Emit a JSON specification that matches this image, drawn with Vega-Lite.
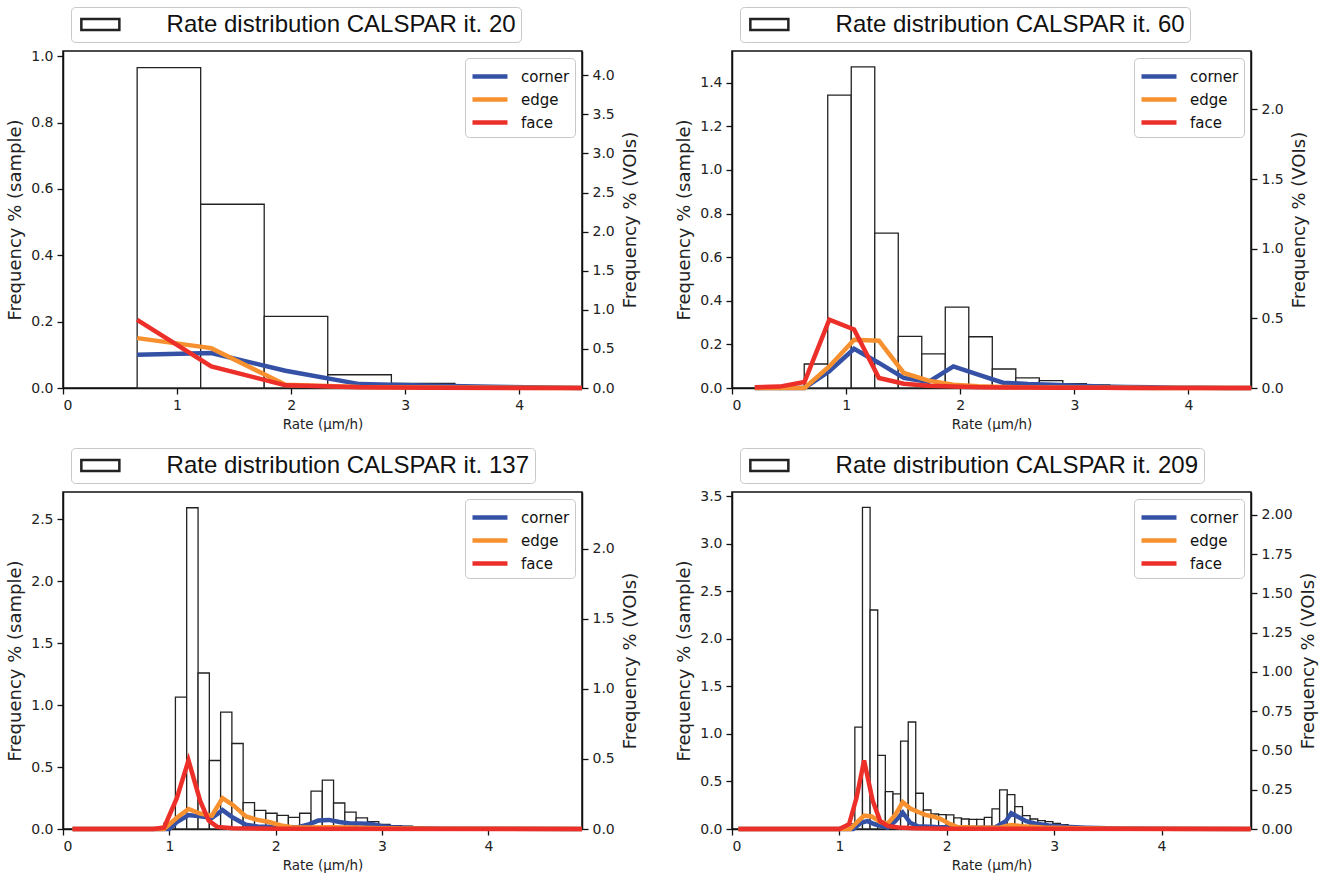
{
"$schema": "https://vega.github.io/schema/vega-lite/v6.json",
"background": "white",
"padding": {"left": 5, "top": 5, "right": 2, "bottom": 5},
"config": {
 "font": "DejaVu Sans",
 "view": {"stroke": "#111", "strokeWidth": 1.5},
 "axis": {"domainColor": "#111", "domainWidth": 1.5, "tickColor": "#111", "tickWidth": 1.3, "tickSize": 6, "labelFontSize": 14, "labelColor": "#222", "labelFont": "DejaVu Sans", "titleFont": "DejaVu Sans", "titleFontSize": 14, "titleFontWeight": "normal", "titleColor": "#222", "grid": false, "labelPadding": 4},
 "axisX": {"titlePadding": 5, "titleFontSize": 13.5},
 "axisY": {"titlePadding": 6, "titleFontSize": 18},
 "legend": {"title": null, "strokeColor": "#c8c8c8", "fillColor": "white", "cornerRadius": 4}
},
"datasets": {
 "h1": [{"x0":0.65,"x1":1.207,"f":0.966},{"x0":1.207,"x1":1.764,"f":0.554},{"x0":1.764,"x1":2.321,"f":0.216},{"x0":2.321,"x1":2.879,"f":0.040},{"x0":2.879,"x1":3.436,"f":0.014},{"x0":3.436,"x1":3.993,"f":0.003},{"x0":3.993,"x1":4.55,"f":0.001}],
 "l1": [
  {"t":"corner","x":0.65,"v":0.426},{"t":"corner","x":1.3,"v":0.447},{"t":"corner","x":1.95,"v":0.22},{"t":"corner","x":2.6,"v":0.05},{"t":"corner","x":3.25,"v":0.03},{"t":"corner","x":3.9,"v":0.012},{"t":"corner","x":4.55,"v":0.0},
  {"t":"edge","x":0.65,"v":0.638},{"t":"edge","x":1.3,"v":0.51},{"t":"edge","x":1.95,"v":0.04},{"t":"edge","x":2.6,"v":0.012},{"t":"edge","x":3.25,"v":0.005},{"t":"edge","x":3.9,"v":0.002},{"t":"edge","x":4.55,"v":0.0},
  {"t":"face","x":0.65,"v":0.872},{"t":"face","x":1.3,"v":0.277},{"t":"face","x":1.95,"v":0.034},{"t":"face","x":2.6,"v":0.01},{"t":"face","x":3.25,"v":0.004},{"t":"face","x":3.9,"v":0.001},{"t":"face","x":4.55,"v":0.0}
 ],
 "h2": [{"x0":0.633,"x1":0.839,"f":0.110},{"x0":0.839,"x1":1.045,"f":1.343},{"x0":1.045,"x1":1.251,"f":1.472},{"x0":1.251,"x1":1.457,"f":0.710},{"x0":1.457,"x1":1.663,"f":0.237},{"x0":1.663,"x1":1.869,"f":0.156},{"x0":1.869,"x1":2.075,"f":0.371},{"x0":2.075,"x1":2.281,"f":0.235},{"x0":2.281,"x1":2.487,"f":0.087},{"x0":2.487,"x1":2.693,"f":0.046},{"x0":2.693,"x1":2.899,"f":0.034},{"x0":2.899,"x1":3.105,"f":0.020},{"x0":3.105,"x1":3.311,"f":0.014},{"x0":3.311,"x1":3.517,"f":0.006},{"x0":3.517,"x1":3.723,"f":0.003},{"x0":3.723,"x1":3.929,"f":0.001},{"x0":3.929,"x1":4.135,"f":0.001},{"x0":4.135,"x1":4.341,"f":0.0005},{"x0":4.341,"x1":4.547,"f":0.0005}],
 "l2": [
  {"t":"corner","x":0.2,"v":0},{"t":"corner","x":0.4175,"v":0},{"t":"corner","x":0.635,"v":0},{"t":"corner","x":0.8525,"v":0.12},{"t":"corner","x":1.07,"v":0.282},{"t":"corner","x":1.2875,"v":0.18},{"t":"corner","x":1.505,"v":0.072},{"t":"corner","x":1.7225,"v":0.043},{"t":"corner","x":1.94,"v":0.155},{"t":"corner","x":2.1575,"v":0.096},{"t":"corner","x":2.375,"v":0.038},{"t":"corner","x":2.5925,"v":0.029},{"t":"corner","x":2.81,"v":0.024},{"t":"corner","x":3.0275,"v":0.017},{"t":"corner","x":3.245,"v":0.01},{"t":"corner","x":3.4625,"v":0.007},{"t":"corner","x":3.68,"v":0.005},{"t":"corner","x":3.8975,"v":0.002},{"t":"corner","x":4.115,"v":0.001},{"t":"corner","x":4.3325,"v":0},{"t":"corner","x":4.55,"v":0},
  {"t":"edge","x":0.2,"v":0},{"t":"edge","x":0.4175,"v":0},{"t":"edge","x":0.635,"v":0},{"t":"edge","x":0.8525,"v":0.155},{"t":"edge","x":1.07,"v":0.347},{"t":"edge","x":1.2875,"v":0.34},{"t":"edge","x":1.505,"v":0.108},{"t":"edge","x":1.7225,"v":0.053},{"t":"edge","x":1.94,"v":0.024},{"t":"edge","x":2.1575,"v":0.012},{"t":"edge","x":2.375,"v":0.007},{"t":"edge","x":2.5925,"v":0.004},{"t":"edge","x":2.81,"v":0.003},{"t":"edge","x":3.0275,"v":0.002},{"t":"edge","x":3.245,"v":0.001},{"t":"edge","x":3.4625,"v":0.001},{"t":"edge","x":3.68,"v":0},{"t":"edge","x":3.8975,"v":0},{"t":"edge","x":4.115,"v":0},{"t":"edge","x":4.3325,"v":0},{"t":"edge","x":4.55,"v":0},
  {"t":"face","x":0.2,"v":0.005},{"t":"face","x":0.4175,"v":0.01},{"t":"face","x":0.635,"v":0.043},{"t":"face","x":0.8525,"v":0.49},{"t":"face","x":1.07,"v":0.42},{"t":"face","x":1.2875,"v":0.072},{"t":"face","x":1.505,"v":0.031},{"t":"face","x":1.7225,"v":0.017},{"t":"face","x":1.94,"v":0.01},{"t":"face","x":2.1575,"v":0.006},{"t":"face","x":2.375,"v":0.004},{"t":"face","x":2.5925,"v":0.003},{"t":"face","x":2.81,"v":0.002},{"t":"face","x":3.0275,"v":0.001},{"t":"face","x":3.245,"v":0.001},{"t":"face","x":3.4625,"v":0},{"t":"face","x":3.68,"v":0},{"t":"face","x":3.8975,"v":0},{"t":"face","x":4.115,"v":0},{"t":"face","x":4.3325,"v":0},{"t":"face","x":4.55,"v":0}
 ],
 "h3": [{"x0":0.951,"x1":1.057,"f":0.049},{"x0":1.057,"x1":1.163,"f":1.065},{"x0":1.163,"x1":1.270,"f":2.593},{"x0":1.270,"x1":1.376,"f":1.259},{"x0":1.376,"x1":1.482,"f":0.553},{"x0":1.482,"x1":1.588,"f":0.943},{"x0":1.588,"x1":1.694,"f":0.69},{"x0":1.694,"x1":1.801,"f":0.213},{"x0":1.801,"x1":1.907,"f":0.151},{"x0":1.907,"x1":2.013,"f":0.127},{"x0":2.013,"x1":2.119,"f":0.11},{"x0":2.119,"x1":2.225,"f":0.094},{"x0":2.225,"x1":2.332,"f":0.127},{"x0":2.332,"x1":2.438,"f":0.305},{"x0":2.438,"x1":2.544,"f":0.394},{"x0":2.544,"x1":2.650,"f":0.21},{"x0":2.650,"x1":2.756,"f":0.137},{"x0":2.756,"x1":2.863,"f":0.089},{"x0":2.863,"x1":2.969,"f":0.059},{"x0":2.969,"x1":3.075,"f":0.038},{"x0":3.075,"x1":3.181,"f":0.027},{"x0":3.181,"x1":3.287,"f":0.022},{"x0":3.287,"x1":3.394,"f":0.013},{"x0":3.394,"x1":3.500,"f":0.008},{"x0":3.500,"x1":3.606,"f":0.005},{"x0":3.606,"x1":3.712,"f":0.003},{"x0":3.712,"x1":3.818,"f":0.002},{"x0":3.818,"x1":3.925,"f":0.002},{"x0":3.925,"x1":4.031,"f":0.001},{"x0":4.031,"x1":4.137,"f":0.001},{"x0":4.137,"x1":4.243,"f":0.001},{"x0":4.243,"x1":4.349,"f":0.0005},{"x0":4.349,"x1":4.456,"f":0.0005},{"x0":4.456,"x1":4.562,"f":0.0003},{"x0":4.562,"x1":4.668,"f":0.0003},{"x0":4.668,"x1":4.774,"f":0.0002},{"x0":4.774,"x1":4.880,"f":0.0002}],
 "l3": [
  {"t":"corner","x":0.09,"v":0},{"t":"corner","x":1.0,"v":0},{"t":"corner","x":1.07,"v":0.05},{"t":"corner","x":1.18,"v":0.1},{"t":"corner","x":1.29,"v":0.09},{"t":"corner","x":1.4,"v":0.08},{"t":"corner","x":1.5,"v":0.135},{"t":"corner","x":1.6,"v":0.08},{"t":"corner","x":1.72,"v":0.03},{"t":"corner","x":1.83,"v":0.018},{"t":"corner","x":2.0,"v":0.015},{"t":"corner","x":2.2,"v":0.012},{"t":"corner","x":2.3,"v":0.03},{"t":"corner","x":2.4,"v":0.06},{"t":"corner","x":2.5,"v":0.065},{"t":"corner","x":2.6,"v":0.05},{"t":"corner","x":2.7,"v":0.04},{"t":"corner","x":2.8,"v":0.04},{"t":"corner","x":2.9,"v":0.035},{"t":"corner","x":3.0,"v":0.02},{"t":"corner","x":3.1,"v":0.012},{"t":"corner","x":3.3,"v":0.006},{"t":"corner","x":3.6,"v":0.002},{"t":"corner","x":4.88,"v":0},
  {"t":"edge","x":0.09,"v":0},{"t":"edge","x":0.95,"v":0},{"t":"edge","x":1.07,"v":0.08},{"t":"edge","x":1.18,"v":0.143},{"t":"edge","x":1.29,"v":0.11},{"t":"edge","x":1.4,"v":0.095},{"t":"edge","x":1.5,"v":0.22},{"t":"edge","x":1.6,"v":0.17},{"t":"edge","x":1.72,"v":0.09},{"t":"edge","x":1.83,"v":0.065},{"t":"edge","x":1.94,"v":0.05},{"t":"edge","x":2.05,"v":0.025},{"t":"edge","x":2.15,"v":0.012},{"t":"edge","x":2.3,"v":0.01},{"t":"edge","x":2.5,"v":0.012},{"t":"edge","x":2.7,"v":0.01},{"t":"edge","x":3.0,"v":0.006},{"t":"edge","x":3.5,"v":0.002},{"t":"edge","x":4.88,"v":0},
  {"t":"face","x":0.09,"v":0},{"t":"face","x":0.85,"v":0},{"t":"face","x":0.95,"v":0.01},{"t":"face","x":1.07,"v":0.22},{"t":"face","x":1.18,"v":0.49},{"t":"face","x":1.29,"v":0.2},{"t":"face","x":1.37,"v":0.06},{"t":"face","x":1.45,"v":0.015},{"t":"face","x":1.6,"v":0.005},{"t":"face","x":2.0,"v":0.002},{"t":"face","x":4.88,"v":0}
 ],
 "h4": [{"x0":1.073,"x1":1.144,"f":0.053},{"x0":1.144,"x1":1.215,"f":1.072},{"x0":1.215,"x1":1.286,"f":3.383},{"x0":1.286,"x1":1.357,"f":2.303},{"x0":1.357,"x1":1.428,"f":0.774},{"x0":1.428,"x1":1.499,"f":0.394},{"x0":1.499,"x1":1.570,"f":0.369},{"x0":1.570,"x1":1.641,"f":0.925},{"x0":1.641,"x1":1.711,"f":1.125},{"x0":1.711,"x1":1.782,"f":0.376},{"x0":1.782,"x1":1.853,"f":0.2},{"x0":1.853,"x1":1.924,"f":0.158},{"x0":1.924,"x1":1.995,"f":0.151},{"x0":1.995,"x1":2.066,"f":0.148},{"x0":2.066,"x1":2.137,"f":0.116},{"x0":2.137,"x1":2.208,"f":0.105},{"x0":2.208,"x1":2.279,"f":0.102},{"x0":2.279,"x1":2.350,"f":0.102},{"x0":2.350,"x1":2.421,"f":0.123},{"x0":2.421,"x1":2.492,"f":0.211},{"x0":2.492,"x1":2.563,"f":0.411},{"x0":2.563,"x1":2.634,"f":0.362},{"x0":2.634,"x1":2.705,"f":0.236},{"x0":2.705,"x1":2.776,"f":0.141},{"x0":2.776,"x1":2.847,"f":0.105},{"x0":2.847,"x1":2.917,"f":0.088},{"x0":2.917,"x1":2.988,"f":0.077},{"x0":2.988,"x1":3.059,"f":0.06},{"x0":3.059,"x1":3.130,"f":0.046},{"x0":3.130,"x1":3.201,"f":0.032},{"x0":3.201,"x1":3.272,"f":0.025},{"x0":3.272,"x1":3.343,"f":0.018},{"x0":3.343,"x1":3.414,"f":0.014},{"x0":3.414,"x1":3.485,"f":0.011},{"x0":3.485,"x1":3.556,"f":0.007},{"x0":3.556,"x1":3.627,"f":0.005},{"x0":3.627,"x1":3.698,"f":0.004},{"x0":3.698,"x1":3.769,"f":0.003},{"x0":3.769,"x1":3.840,"f":0.002},{"x0":3.840,"x1":3.911,"f":0.002},{"x0":3.911,"x1":3.982,"f":0.001},{"x0":3.982,"x1":4.053,"f":0.001},{"x0":4.053,"x1":4.123,"f":0.001},{"x0":4.123,"x1":4.194,"f":0.0005},{"x0":4.194,"x1":4.265,"f":0.0003},{"x0":4.265,"x1":4.336,"f":0.0003},{"x0":4.336,"x1":4.407,"f":0.0003},{"x0":4.407,"x1":4.478,"f":0.0003},{"x0":4.478,"x1":4.549,"f":0.0003},{"x0":4.549,"x1":4.620,"f":0.0003},{"x0":4.620,"x1":4.691,"f":0.0003},{"x0":4.691,"x1":4.762,"f":0.0003},{"x0":4.762,"x1":4.833,"f":0.0003}],
 "l4": [
  {"t":"corner","x":0.06,"v":0},{"t":"corner","x":1.13,"v":0},{"t":"corner","x":1.2,"v":0.04},{"t":"corner","x":1.26,"v":0.05},{"t":"corner","x":1.33,"v":0.03},{"t":"corner","x":1.45,"v":0.01},{"t":"corner","x":1.52,"v":0.05},{"t":"corner","x":1.59,"v":0.105},{"t":"corner","x":1.66,"v":0.04},{"t":"corner","x":1.73,"v":0.018},{"t":"corner","x":1.9,"v":0.012},{"t":"corner","x":2.2,"v":0.008},{"t":"corner","x":2.45,"v":0.01},{"t":"corner","x":2.55,"v":0.05},{"t":"corner","x":2.6,"v":0.1},{"t":"corner","x":2.67,"v":0.075},{"t":"corner","x":2.74,"v":0.05},{"t":"corner","x":2.82,"v":0.035},{"t":"corner","x":2.95,"v":0.022},{"t":"corner","x":3.1,"v":0.014},{"t":"corner","x":3.3,"v":0.008},{"t":"corner","x":3.6,"v":0.003},{"t":"corner","x":4.0,"v":0.001},{"t":"corner","x":4.83,"v":0},
  {"t":"edge","x":0.06,"v":0},{"t":"edge","x":1.1,"v":0},{"t":"edge","x":1.16,"v":0.04},{"t":"edge","x":1.23,"v":0.085},{"t":"edge","x":1.3,"v":0.08},{"t":"edge","x":1.38,"v":0.045},{"t":"edge","x":1.45,"v":0.035},{"t":"edge","x":1.52,"v":0.09},{"t":"edge","x":1.59,"v":0.17},{"t":"edge","x":1.66,"v":0.13},{"t":"edge","x":1.73,"v":0.11},{"t":"edge","x":1.8,"v":0.09},{"t":"edge","x":1.87,"v":0.08},{"t":"edge","x":1.94,"v":0.065},{"t":"edge","x":2.02,"v":0.035},{"t":"edge","x":2.1,"v":0.012},{"t":"edge","x":2.3,"v":0.008},{"t":"edge","x":2.5,"v":0.01},{"t":"edge","x":2.6,"v":0.025},{"t":"edge","x":2.7,"v":0.018},{"t":"edge","x":2.9,"v":0.01},{"t":"edge","x":3.2,"v":0.004},{"t":"edge","x":3.6,"v":0.001},{"t":"edge","x":4.83,"v":0},
  {"t":"face","x":0.06,"v":0},{"t":"face","x":1.0,"v":0},{"t":"face","x":1.09,"v":0.03},{"t":"face","x":1.16,"v":0.2},{"t":"face","x":1.23,"v":0.436},{"t":"face","x":1.31,"v":0.18},{"t":"face","x":1.38,"v":0.05},{"t":"face","x":1.45,"v":0.02},{"t":"face","x":1.55,"v":0.01},{"t":"face","x":1.7,"v":0.005},{"t":"face","x":2.0,"v":0.002},{"t":"face","x":4.83,"v":0}
 ]
},
"resolve": {"scale": {"stroke": "independent", "x": "independent", "y": "independent"}, "legend": {"stroke": "independent"}},
"spacing": 14,
"vconcat": [
 {"hconcat": [
  {"width": 519, "height": 337,
   "layer": [
    {"data": {"name": "h1"}, "mark": {"type": "rect", "fill": "white", "stroke": "#222", "strokeWidth": 1.3},
     "encoding": {
      "x": {"field": "x0", "type": "quantitative", "scale": {"domain": [0, 4.55], "nice": false, "zero": false}, "axis": {"title": "Rate (µm/h)", "values": [0,1,2,3,4], "format": "d"}},
      "x2": {"field": "x1"},
      "y": {"field": "f", "type": "quantitative", "scale": {"domain": [0, 1.016], "nice": false}, "axis": {"title": "Frequency % (sample)", "orient": "left", "values": [0,0.2,0.4,0.6,0.8,1.0], "format": ".1f"}},
      "y2": {"datum": 0},
      "stroke": {"datum": "Rate distribution CALSPAR it. 20", "scale": {"range": ["#222"]},
        "legend": {"orient": "none", "legendX": 8, "legendY": -44, "padding": 5, "labelFont": "Liberation Sans", "labelFontSize": 24, "labelColor": "#111", "labelOffset": 65.6, "labelLimit": 700, "symbolType": "M-0.64,-0.5H2.76V0.5H-0.64Z", "symbolSize": 500, "symbolStrokeWidth": 2.5, "symbolFillColor": "white", "symbolStrokeColor": "#111"}}
     }},
    {"data": {"name": "l1"}, "mark": {"type": "line", "strokeWidth": 4.5},
     "encoding": {
      "x": {"field": "x", "type": "quantitative"},
      "y": {"field": "v", "type": "quantitative", "scale": {"domain": [0, 4.31], "nice": false}, "axis": {"title": "Frequency % (VOIs)", "orient": "right", "titleAngle": 270, "titleBaseline": "top", "values": [0,0.5,1,1.5,2,2.5,3,3.5,4], "format": ".1f", "titlePadding": 7}},
      "stroke": {"field": "t", "type": "nominal", "scale": {"domain": ["corner","edge","face"], "range": ["#3551a6","#f7902e","#ec2f28"]},
        "legend": {"orient": "top-right", "offset": 7, "padding": 5, "labelFontSize": 15, "labelColor": "#111", "symbolType": "M-1,0H2.18", "symbolSize": 484, "symbolStrokeWidth": 4.5, "labelOffset": 24, "rowPadding": 0}}
     }}
   ],
   "resolve": {"scale": {"y": "independent", "stroke": "independent"}, "legend": {"stroke": "independent"}}
  },
  {"width": 519, "height": 337,
   "layer": [
    {"data": {"name": "h2"}, "mark": {"type": "rect", "fill": "white", "stroke": "#222", "strokeWidth": 1.3},
     "encoding": {
      "x": {"field": "x0", "type": "quantitative", "scale": {"domain": [0, 4.548], "nice": false, "zero": false}, "axis": {"title": "Rate (µm/h)", "values": [0,1,2,3,4], "format": "d"}},
      "x2": {"field": "x1"},
      "y": {"field": "f", "type": "quantitative", "scale": {"domain": [0, 1.545], "nice": false}, "axis": {"title": "Frequency % (sample)", "orient": "left", "values": [0,0.2,0.4,0.6,0.8,1.0,1.2,1.4], "format": ".1f"}},
      "y2": {"datum": 0},
      "stroke": {"datum": "Rate distribution CALSPAR it. 60", "scale": {"range": ["#222"]},
        "legend": {"orient": "none", "legendX": 8, "legendY": -44, "padding": 5, "labelFont": "Liberation Sans", "labelFontSize": 24, "labelColor": "#111", "labelOffset": 65.6, "labelLimit": 700, "symbolType": "M-0.64,-0.5H2.76V0.5H-0.64Z", "symbolSize": 500, "symbolStrokeWidth": 2.5, "symbolFillColor": "white", "symbolStrokeColor": "#111"}}
     }},
    {"data": {"name": "l2"}, "mark": {"type": "line", "strokeWidth": 4.5},
     "encoding": {
      "x": {"field": "x", "type": "quantitative"},
      "y": {"field": "v", "type": "quantitative", "scale": {"domain": [0, 2.42], "nice": false}, "axis": {"title": "Frequency % (VOIs)", "orient": "right", "titleAngle": 270, "titleBaseline": "top", "values": [0,0.5,1,1.5,2], "format": ".1f", "titlePadding": 7}},
      "stroke": {"field": "t", "type": "nominal", "scale": {"domain": ["corner","edge","face"], "range": ["#3551a6","#f7902e","#ec2f28"]},
        "legend": {"orient": "top-right", "offset": 7, "padding": 5, "labelFontSize": 15, "labelColor": "#111", "symbolType": "M-1,0H2.18", "symbolSize": 484, "symbolStrokeWidth": 4.5, "labelOffset": 24, "rowPadding": 0}}
     }}
   ],
   "resolve": {"scale": {"y": "independent", "stroke": "independent"}, "legend": {"stroke": "independent"}}
  }
 ], "spacing": 33, "resolve": {"scale": {"stroke": "independent", "x": "independent", "y": "independent"}, "legend": {"stroke": "independent"}}},
 {"hconcat": [
  {"width": 519, "height": 337,
   "layer": [
    {"data": {"name": "h3"}, "mark": {"type": "rect", "fill": "white", "stroke": "#222", "strokeWidth": 1.3},
     "encoding": {
      "x": {"field": "x0", "type": "quantitative", "scale": {"domain": [0, 4.88], "nice": false, "zero": false}, "axis": {"title": "Rate (µm/h)", "values": [0,1,2,3,4], "format": "d"}},
      "x2": {"field": "x1"},
      "y": {"field": "f", "type": "quantitative", "scale": {"domain": [0, 2.72], "nice": false}, "axis": {"title": "Frequency % (sample)", "orient": "left", "values": [0,0.5,1.0,1.5,2.0,2.5], "format": ".1f"}},
      "y2": {"datum": 0},
      "stroke": {"datum": "Rate distribution CALSPAR it. 137", "scale": {"range": ["#222"]},
        "legend": {"orient": "none", "legendX": 8, "legendY": -44, "padding": 5, "labelFont": "Liberation Sans", "labelFontSize": 24, "labelColor": "#111", "labelOffset": 65.6, "labelLimit": 700, "symbolType": "M-0.64,-0.5H2.76V0.5H-0.64Z", "symbolSize": 500, "symbolStrokeWidth": 2.5, "symbolFillColor": "white", "symbolStrokeColor": "#111"}}
     }},
    {"data": {"name": "l3"}, "mark": {"type": "line", "strokeWidth": 4.5},
     "encoding": {
      "x": {"field": "x", "type": "quantitative"},
      "y": {"field": "v", "type": "quantitative", "scale": {"domain": [0, 2.405], "nice": false}, "axis": {"title": "Frequency % (VOIs)", "orient": "right", "titleAngle": 270, "titleBaseline": "top", "values": [0,0.5,1,1.5,2], "format": ".1f", "titlePadding": 7}},
      "stroke": {"field": "t", "type": "nominal", "scale": {"domain": ["corner","edge","face"], "range": ["#3551a6","#f7902e","#ec2f28"]},
        "legend": {"orient": "top-right", "offset": 7, "padding": 5, "labelFontSize": 15, "labelColor": "#111", "symbolType": "M-1,0H2.18", "symbolSize": 484, "symbolStrokeWidth": 4.5, "labelOffset": 24, "rowPadding": 0}}
     }}
   ],
   "resolve": {"scale": {"y": "independent", "stroke": "independent"}, "legend": {"stroke": "independent"}}
  },
  {"width": 519, "height": 337,
   "layer": [
    {"data": {"name": "h4"}, "mark": {"type": "rect", "fill": "white", "stroke": "#222", "strokeWidth": 1.3},
     "encoding": {
      "x": {"field": "x0", "type": "quantitative", "scale": {"domain": [0, 4.833], "nice": false, "zero": false}, "axis": {"title": "Rate (µm/h)", "values": [0,1,2,3,4], "format": "d"}},
      "x2": {"field": "x1"},
      "y": {"field": "f", "type": "quantitative", "scale": {"domain": [0, 3.544], "nice": false}, "axis": {"title": "Frequency % (sample)", "orient": "left", "values": [0,0.5,1.0,1.5,2.0,2.5,3.0,3.5], "format": ".1f"}},
      "y2": {"datum": 0},
      "stroke": {"datum": "Rate distribution CALSPAR it. 209", "scale": {"range": ["#222"]},
        "legend": {"orient": "none", "legendX": 8, "legendY": -44, "padding": 5, "labelFont": "Liberation Sans", "labelFontSize": 24, "labelColor": "#111", "labelOffset": 65.6, "labelLimit": 700, "symbolType": "M-0.64,-0.5H2.76V0.5H-0.64Z", "symbolSize": 500, "symbolStrokeWidth": 2.5, "symbolFillColor": "white", "symbolStrokeColor": "#111"}}
     }},
    {"data": {"name": "l4"}, "mark": {"type": "line", "strokeWidth": 4.5},
     "encoding": {
      "x": {"field": "x", "type": "quantitative"},
      "y": {"field": "v", "type": "quantitative", "scale": {"domain": [0, 2.145], "nice": false}, "axis": {"title": "Frequency % (VOIs)", "orient": "right", "titleAngle": 270, "titleBaseline": "top", "values": [0,0.25,0.5,0.75,1,1.25,1.5,1.75,2], "format": ".2f", "titlePadding": 7}},
      "stroke": {"field": "t", "type": "nominal", "scale": {"domain": ["corner","edge","face"], "range": ["#3551a6","#f7902e","#ec2f28"]},
        "legend": {"orient": "top-right", "offset": 7, "padding": 5, "labelFontSize": 15, "labelColor": "#111", "symbolType": "M-1,0H2.18", "symbolSize": 484, "symbolStrokeWidth": 4.5, "labelOffset": 24, "rowPadding": 0}}
     }}
   ],
   "resolve": {"scale": {"y": "independent", "stroke": "independent"}, "legend": {"stroke": "independent"}}
  }
 ], "spacing": 33, "resolve": {"scale": {"stroke": "independent", "x": "independent", "y": "independent"}, "legend": {"stroke": "independent"}}}
]
}
